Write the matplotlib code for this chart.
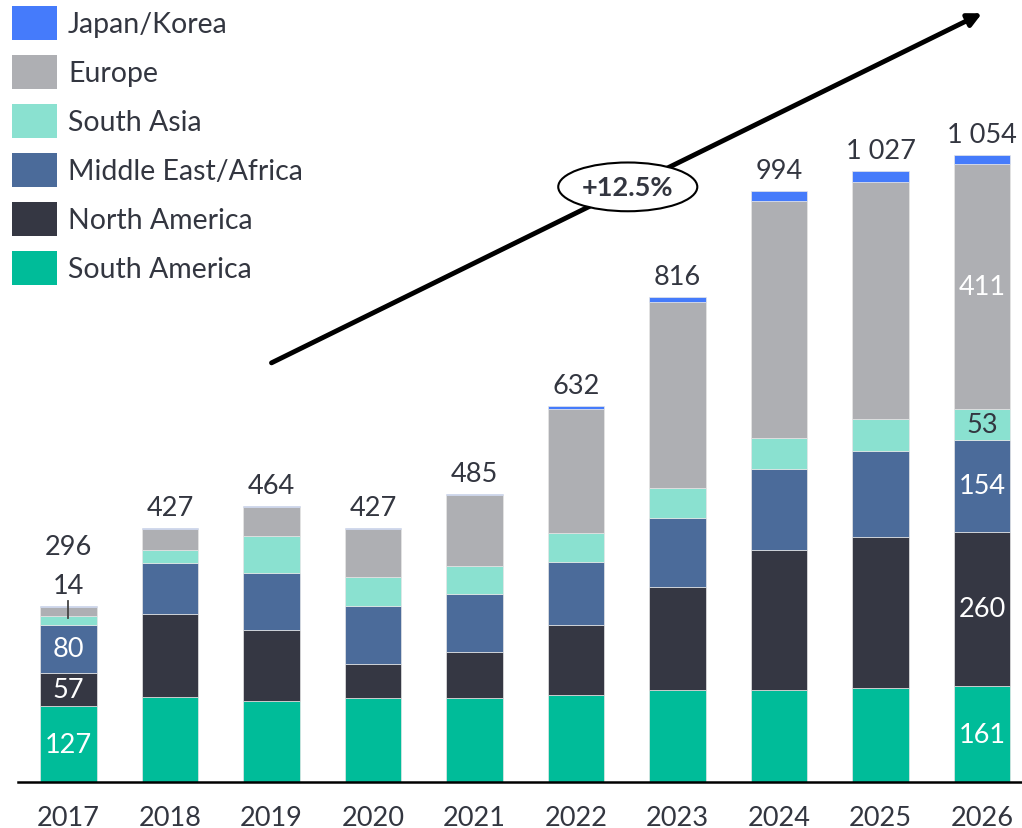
import matplotlib
matplotlib.use("Agg")
import matplotlib.pyplot as plt
from matplotlib.patches import Ellipse, Patch

plt.rcParams['font.family'] = ['Lato', 'DejaVu Sans']

# -- data
years = ["2017", "2018", "2019", "2020", "2021", "2022", "2023", "2024", "2025", "2026"]
south_america = [127, 143, 136, 141, 141, 147, 155, 155, 158, 161]
north_america = [57, 140, 120, 57, 77, 117, 173, 236, 254, 260]
mideast_africa = [80, 86, 96, 98, 98, 106, 116, 136, 145, 154]
south_asia = [16, 22, 62, 49, 47, 49, 50, 52, 54, 53]
europe = [14, 34, 48, 80, 119, 208, 314, 398, 399, 411]
japan_korea = [2, 2, 2, 2, 3, 5, 8, 17, 17, 15]
cagr_label = "+12.5%"

series = [
    ("South America", south_america, "#00BC99"),
    ("North America", north_america, "#353743"),
    ("Middle East/Africa", mideast_africa, "#4B6B9A"),
    ("South Asia", south_asia, "#8AE1D0"),
    ("Europe", europe, "#AEAFB3"),
    ("Japan/Korea", japan_korea, "#457BFB"),
]

txt = "#333640"
fs = 19.5

fig = plt.figure(figsize=(10.22, 8.29), dpi=100)
ax = fig.add_axes([18 / 1022, 46 / 829, 1004 / 1022, 783 / 829])

x = list(range(len(years)))
bottoms = [0] * len(years)
seg_bottoms = {}
for name, vals, col in series:
    ax.bar(x, vals, width=0.56, bottom=bottoms, color=col,
           edgecolor="#e6e6e6", linewidth=0.5, label=name)
    seg_bottoms[name] = list(bottoms)
    bottoms = [b + v for b, v in zip(bottoms, vals)]
totals = bottoms

# -- total labels above bars
for i, t in enumerate(totals):
    s = f"{t:,}".replace(",", " ")
    lift = 9.4 if i > 0 else 37.5
    ax.annotate(s, (i, t), xytext=(0, lift), textcoords="offset points",
                ha="center", va="baseline", fontsize=fs, color=txt)

# -- 2017 small Europe label with leader line
i0 = 0
ax.annotate(str(europe[i0]), (i0, totals[i0]), xytext=(0, 9.4), textcoords="offset points",
            ha="center", va="baseline", fontsize=fs, color=txt)
ax.plot([i0, i0], [totals[i0] + 8, seg_bottoms["Europe"][i0] - 4], color="#444444", lw=1.3)

# -- in-bar labels for first and last year
def seg_label(i, name, vals, color):
    b = seg_bottoms[name][i]
    ax.text(i, b + vals[i] / 2, str(vals[i]), ha="center", va="center",
            fontsize=fs, color=color)

seg_label(0, "South America", south_america, "white")
seg_label(0, "North America", north_america, "white")
seg_label(0, "Middle East/Africa", mideast_africa, "white")
last = len(years) - 1
seg_label(last, "South America", south_america, "white")
seg_label(last, "North America", north_america, "white")
seg_label(last, "Middle East/Africa", mideast_africa, "white")
seg_label(last, "South Asia", south_asia, txt)
seg_label(last, "Europe", europe, "white")

# -- growth arrow
ax.annotate("", xy=(9.0, 1293), xytext=(2.0, 705),
            arrowprops=dict(arrowstyle="-|>,head_length=0.8,head_width=0.4",
                            color="black", lw=3.5, shrinkA=0, shrinkB=0))
ax.add_patch(Ellipse((5.51, 1001), 1.37, 82, facecolor="white",
                     edgecolor="black", lw=1.5, zorder=5))
ax.text(5.51, 1001, cagr_label, ha="center", va="center", fontsize=fs,
        fontweight="bold", color=txt, zorder=6)

ax.set_xlim(-0.4975, 9.394)
ax.set_ylim(0, 1317)
ax.set_xticks(x)
ax.set_xticklabels(years, fontsize=fs, color=txt)
ax.tick_params(axis="x", length=0, pad=16.5)
ax.set_yticks([])
for sp in ["top", "right", "left"]:
    ax.spines[sp].set_visible(False)
ax.spines["bottom"].set_linewidth(1.8)
ax.spines["bottom"].set_color("black")

handles = [Patch(facecolor=c, label=n) for n, v, c in series][::-1]
fig.legend(handles=handles, loc="upper left", bbox_to_anchor=(12 / 1022, 1 - 7 / 829),
           frameon=False, fontsize=20.5, labelcolor=txt, borderpad=0, borderaxespad=0,
           handlelength=1.58, handleheight=1.462, labelspacing=0.526, handletextpad=0.39)

fig.savefig("out.png", dpi=100)
